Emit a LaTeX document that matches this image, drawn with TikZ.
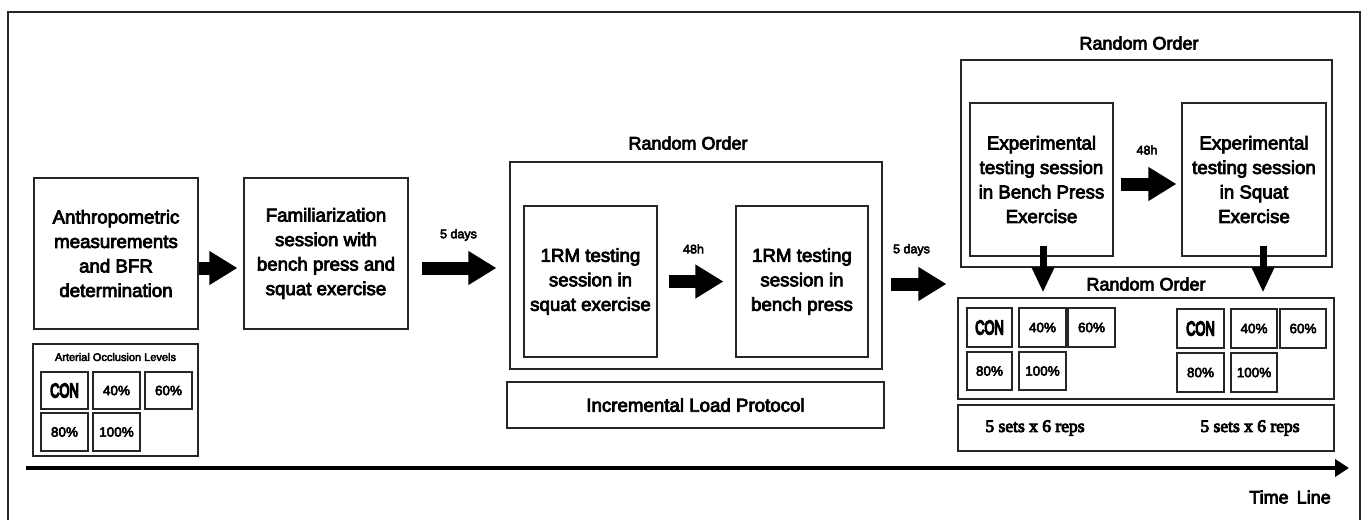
\documentclass[tikz,border=0pt]{standalone}
\usepackage{graphicx}
\usepackage{fontspec}
\setmainfont{Liberation Sans}
\newfontfamily\medfont{Liberation Sans}[FakeBold=4]
\newfontfamily\confont{Liberation Sans}[FakeBold=9]
\newfontfamily\repsfont{Liberation Serif}[FakeBold=5]
\usetikzlibrary{arrows.meta,calc}

\tikzset{
  frameline/.style={draw=black!85, line width=1.1pt},
  stage/.style={frameline, inner sep=0pt, align=center,
    font=\medfont\fontsize{18.7}{24.5}\selectfont},
  group/.style={frameline, inner sep=0pt},
  cell/.style={frameline, inner sep=0pt,
    font=\medfont\fontsize{13.5}{14}\selectfont},
  heading/.style={inner sep=0pt, font=\medfont\fontsize{18}{20}\selectfont},
  gap/.style={inner sep=0pt, font=\medfont\fontsize{12.5}{14}\selectfont},
  bigarrow/.style={draw=black, line width=13pt,
    -{Triangle[length=28pt,width=32pt]}},
  downarrow/.style={draw=black, line width=7pt,
    -{Triangle[length=25pt,width=21pt]}},
  timeline/.style={draw=black, line width=4.5pt,
    -{Triangle[length=14pt,width=17pt]}},
}

\newcommand{\conlabel}{\scalebox{0.66}[1]{\confont\fontsize{19.5}{19.5}\selectfont CON}}

\begin{document}
\begin{tikzpicture}[x=1pt,y=-1pt]
\useasboundingbox (0,0) rectangle (1367,520);

% outer border
\draw[frameline] (8,520) -- (8,12) -- (1360,12) -- (1360,520);

% ---- first stages
\node[stage, minimum width=164pt, minimum height=151pt] (A) at (116,253.5)
  {Anthropometric\\measurements\\and BFR\\determination};
\node[stage, minimum width=164pt, minimum height=151pt] (B) at (326,253.5)
  {Familiarization\\session with\\bench press and\\squat exercise};

% occlusion levels
\node[group, minimum width=165pt, minimum height=112pt] (lev) at (115.5,400) {};
\node[inner sep=0pt, font=\medfont\fontsize{11}{12}\selectfont] (levt) at (115.5,357)
  {Arterial Occlusion Levels};
\node[cell, minimum width=47pt, minimum height=37pt] (l1) at (64.5,390.5) {\conlabel};
\node[cell, minimum width=47pt, minimum height=37pt] (l2) at (116.5,390.5) {40\%};
\node[cell, minimum width=47pt, minimum height=37pt] (l3) at (168.5,390.5) {60\%};
\node[cell, minimum width=47pt, minimum height=38pt] (l4) at (64.5,432) {80\%};
\node[cell, minimum width=47pt, minimum height=38pt] (l5) at (116.5,432) {100\%};

% ---- 1RM testing
\node[heading] (ro1) at (688,143) {Random Order};
\node[group, minimum width=372pt, minimum height=207pt] (M) at (696,265.5) {};
\node[stage, minimum width=133pt, minimum height=151pt] (M1) at (590.5,281.5)
  {1RM testing\\session in\\squat exercise};
\node[stage, minimum width=132pt, minimum height=151pt] (M2) at (802,281.5)
  {1RM testing\\session in\\bench press};
\node[stage, minimum width=377pt, minimum height=46pt] (ilp) at (695.5,405)
  {Incremental Load Protocol};
\node[gap] (h1) at (693.5,249) {48h};

% ---- experimental sessions
\node[heading] (ro2) at (1139,43) {Random Order};
\node[group, minimum width=371pt, minimum height=207pt] (R) at (1146.5,163.5) {};
\node[stage, minimum width=143pt, minimum height=153pt] (R1) at (1041.5,179.5)
  {Experimental\\testing session\\in Bench Press\\Exercise};
\node[stage, minimum width=144pt, minimum height=153pt] (R2) at (1254,179.5)
  {Experimental\\testing session\\in Squat\\Exercise};
\node[gap] (h2) at (1147,150) {48h};

\node[heading] (ro3) at (1146,284) {Random Order};
\node[group, minimum width=376pt, minimum height=101pt] (RL) at (1146,348.5) {};
\node[cell, minimum width=45pt, minimum height=39pt] (a1) at (989.5,327.5) {\conlabel};
\node[cell, minimum width=47pt, minimum height=39pt] (a2) at (1042.5,327.5) {40\%};
\node[cell, minimum width=47pt, minimum height=39pt] (a3) at (1091.5,327.5) {60\%};
\node[cell, minimum width=45pt, minimum height=38pt] (a4) at (989.5,371) {80\%};
\node[cell, minimum width=47pt, minimum height=38pt] (a5) at (1042.5,371) {100\%};
\node[cell, minimum width=47pt, minimum height=39pt] (b1) at (1200.5,328.5) {\conlabel};
\node[cell, minimum width=46pt, minimum height=39pt] (b2) at (1254,328.5) {40\%};
\node[cell, minimum width=46pt, minimum height=39pt] (b3) at (1303,328.5) {60\%};
\node[cell, minimum width=47pt, minimum height=39pt] (b4) at (1200.5,372.5) {80\%};
\node[cell, minimum width=46pt, minimum height=39pt] (b5) at (1254,372.5) {100\%};

\node[group, minimum width=376pt, minimum height=46pt] (sets) at (1146,428) {};
\node[inner sep=0pt, font=\repsfont\fontsize{17.5}{18}\selectfont] (s1) at (1035,428) {5 sets x 6 reps};
\node[inner sep=0pt, font=\repsfont\fontsize{17.5}{18}\selectfont] (s2) at (1250,428) {5 sets x 6 reps};

% gap labels
\node[gap] (d1) at (458.5,235) {5 days};
\node[gap] (d2) at (911.5,250) {5 days};

% ---- arrows
\draw[bigarrow] ([yshift=-14.5pt]A.east) -- ([xshift=-6pt,yshift=-14.5pt]B.west);
\draw[bigarrow] ([xshift=13pt,yshift=-14.5pt]B.east) -- ([xshift=-13pt,yshift=-2.5pt]M.west);
\draw[bigarrow] ([xshift=11pt]M1.east) -- ([xshift=-12pt]M2.west);
\draw[bigarrow] ([xshift=8pt,yshift=-18.5pt]M.east) -- ([xshift=-14pt,yshift=-120.5pt]R.west);
\draw[bigarrow] ([xshift=7pt,yshift=-4.5pt]R1.east) -- ([xshift=-5pt,yshift=-4.5pt]R2.west);
\draw[downarrow] ([xshift=1.5pt,yshift=11pt]R1.south) -- ([xshift=-103pt,yshift=5pt]RL.north);
\draw[downarrow] ([xshift=9pt,yshift=11pt]R2.south) -- ([xshift=117pt,yshift=5pt]RL.north);

% time line
\coordinate (t0) at (26,468);
\coordinate (t1) at (1349,468);
\draw[timeline] (t0) -- (t1);
\node[inner sep=0pt, font=\medfont\fontsize{18}{20}\selectfont] (tl) at (1290,497) {Time\hspace{0.45em}Line};
\end{tikzpicture}
\end{document}
